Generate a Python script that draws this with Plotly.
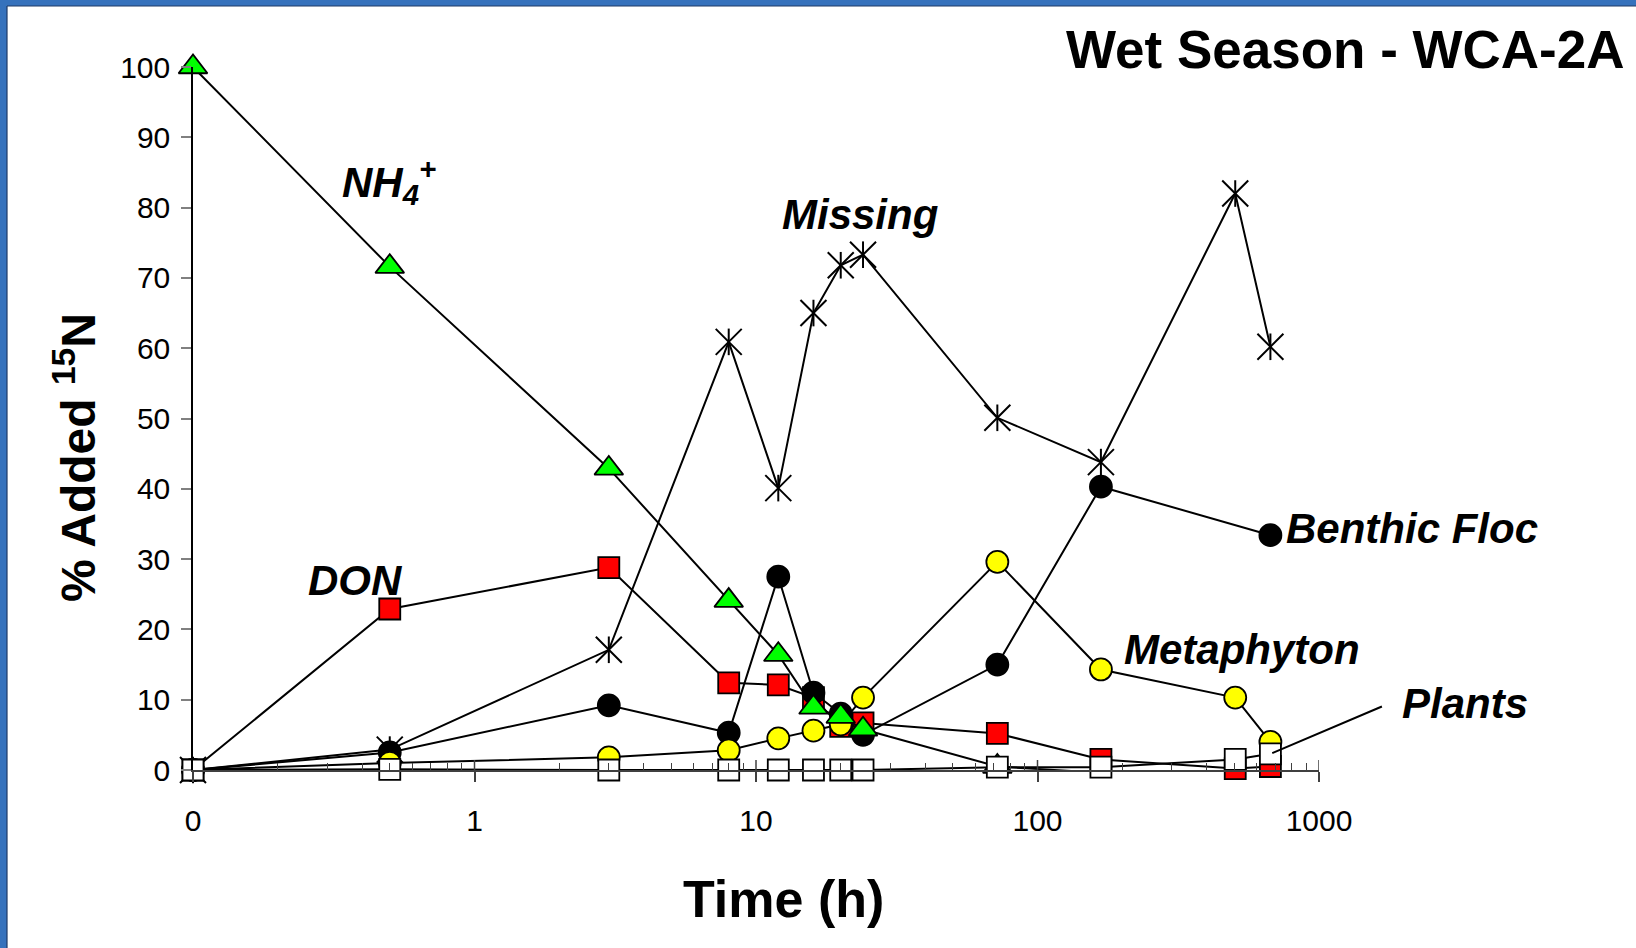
import numpy as np
import plotly.graph_objects as go

# ---------------- data ----------------
time_h = [0, 0.5, 3, 8, 12, 16, 20, 24, 72, 168, 504, 672]
nh4 = [100, 71.6, 42.9, 24.1, 16.4, 8.9, 7.6, 5.8, 0.5, -0.4, -0.4, -0.4]
don = [0, 22.9, 28.8, 12.4, 12.1, 10.3, 6.2, 6.7, 5.2, 1.5, 0.2, 0.5]
benthic_floc = [0, 2.5, 9.2, 5.3, 27.5, 11.0, 8.0, 5.0, 15.0, 40.3, None, 33.4]
metaphyton = [0, 1.0, 1.8, 2.8, 4.5, 5.6, 6.5, 10.3, 29.6, 14.3, 10.3, 4.0]
plants = [0, 0.1, 0, 0, 0, 0, 0, 0, 0.4, 0.4, 1.5, 2.3]
missing = [0, 2.9, 17.1, 60.9, 40.1, 65.0, 71.8, 73.3, 50.1, 43.8, 82.0, 60.2]

x_tick_vals = [0.1, 1, 10, 100, 1000]
x_tick_text = ["0", "1", "10", "100", "1000"]
y_tick_vals = list(range(0, 101, 10))

# time 0 is drawn at the left edge of the log axis (0.1)
x_pos = [t if t > 0 else 0.1 for t in time_h]

FONT = "Liberation Sans, Arial, sans-serif"
W, H = 1636, 948
L, R, T, B = 193, 317, 67, 178
PW, PH = W - L - R, H - T - B


def px(x):
    return (x - L) / PW


def py(y):
    return (H - B - y) / PH


fig = go.Figure()

line = dict(color="black", width=2)

# Missing (asterisk = x + vertical bar)
fig.add_trace(go.Scatter(x=x_pos, y=missing, mode="lines+markers", line=line,
                         marker=dict(symbol="x-thin-open", size=26, color="black",
                                     line=dict(color="black", width=2)),
                         cliponaxis=False, showlegend=False))
fig.add_trace(go.Scatter(x=x_pos, y=missing, mode="markers",
                         marker=dict(symbol="line-ns-open", size=19, color="black",
                                     line=dict(color="black", width=2)),
                         cliponaxis=False, showlegend=False))
# DON
fig.add_trace(go.Scatter(x=x_pos, y=don, mode="lines+markers", line=line,
                         marker=dict(symbol="square", size=21, color="#FF0000",
                                     line=dict(color="black", width=1.8)),
                         cliponaxis=False, showlegend=False))
# Benthic Floc
fig.add_trace(go.Scatter(x=x_pos, y=benthic_floc, mode="lines+markers", line=line,
                         connectgaps=True,
                         marker=dict(symbol="circle", size=22, color="black",
                                     line=dict(color="black", width=1.8)),
                         cliponaxis=False, showlegend=False))
# Metaphyton
fig.add_trace(go.Scatter(x=x_pos, y=metaphyton, mode="lines+markers", line=line,
                         marker=dict(symbol="circle", size=22, color="#FFFF00",
                                     line=dict(color="black", width=1.8)),
                         cliponaxis=False, showlegend=False))
# NH4+
fig.add_trace(go.Scatter(x=x_pos, y=nh4, mode="lines+markers", line=line,
                         marker=dict(symbol="triangle-up", size=25, color="#00FF00",
                                     line=dict(color="black", width=1.8)),
                         cliponaxis=False, showlegend=False))
# Plants
fig.add_trace(go.Scatter(x=x_pos, y=plants, mode="lines+markers", line=line,
                         marker=dict(symbol="square", size=21, color="white",
                                     line=dict(color="black", width=1.8)),
                         cliponaxis=False, showlegend=False))

minor_vals = [k * 10 ** e for e in range(-1, 3) for k in range(2, 10)]

shapes = []
# inside part of the major x ticks (ticks cross the axis)
for v in x_tick_vals[1:]:
    shapes.append(dict(type="line", xref="x", yref="y", x0=v, x1=v,
                       ysizemode="pixel", yanchor=0, y0=0, y1=10,
                       line=dict(color="#404040", width=1.5)))
# slide frame (blue strips on left and top)
shapes.append(dict(type="rect", xref="paper", yref="paper", x0=px(0), x1=px(7),
                   y0=py(H), y1=py(0), fillcolor="#3672BC", line=dict(width=0), layer="above"))
shapes.append(dict(type="rect", xref="paper", yref="paper", x0=px(0), x1=px(W),
                   y0=py(6), y1=py(0), fillcolor="#3672BC", line=dict(width=0), layer="above"))
shapes.append(dict(type="line", xref="paper", yref="paper", x0=px(7), x1=px(7),
                   y0=py(H), y1=py(6), line=dict(color="#1F3A66", width=1.2), layer="above"))
shapes.append(dict(type="line", xref="paper", yref="paper", x0=px(7), x1=px(W),
                   y0=py(6), y1=py(6), line=dict(color="#1F3A66", width=1.2), layer="above"))


def label(text, x, y, size=42, anchor="left", italic=True, angle=0):
    t = f"<b><i>{text}</i></b>" if italic else f"<b>{text}</b>"
    return dict(text=t, xref="paper", yref="paper", x=px(x), y=py(y),
                xanchor=anchor, yanchor="middle", showarrow=False, textangle=angle,
                font=dict(family=FONT, size=size, color="black"))


annotations = [
    label("Wet Season - WCA-2A", 1627, 49, size=53, anchor="right", italic=False),
    label("Time (h)", 783, 899, size=52, anchor="center", italic=False),
    label("% Added <sup>15</sup>N", 75, 458, size=48, anchor="center", italic=False, angle=-90),
    label("NH<sub>4</sub><sup>+</sup>", 340, 182),
    label("Missing", 780, 214),
    label("DON", 306, 580),
    label("Benthic Floc", 1284, 528),
    label("Metaphyton", 1122, 649),
    label("Plants", 1400, 703),
    # pointer line from the "Plants" label to its last point
    dict(text="", x=np.log10(x_pos[-1]), y=plants[-1], xref="x", yref="y",
         showarrow=True, arrowhead=0, arrowwidth=2, arrowcolor="black",
         ax=113, ay=-48, standoff=2),
]

fig.update_layout(
    width=W, height=H,
    margin=dict(l=L, r=R, t=T, b=B),
    paper_bgcolor="white", plot_bgcolor="white",
    font=dict(family=FONT, color="black"),
    shapes=shapes, annotations=annotations,
    xaxis=dict(type="log", range=[-1, 3], tickvals=x_tick_vals, ticktext=x_tick_text,
               ticks="outside", ticklen=10, tickwidth=1.5, tickcolor="#404040",
               showline=True, linecolor="#404040", linewidth=1.5,
               showgrid=False, zeroline=False,
               tickfont=dict(family=FONT, size=30, color="black"), ticklabelstandoff=13,
               minor=dict(tickvals=minor_vals, ticks="inside", ticklen=7,
                          tickwidth=1.2, tickcolor="#404040", showgrid=False)),
    yaxis=dict(range=[0, 100], tickvals=y_tick_vals,
               ticks="outside", ticklen=10, tickwidth=1.5, tickcolor="#808080",
               showline=True, linecolor="black", linewidth=1.5,
               showgrid=False, zeroline=False,
               tickfont=dict(family=FONT, size=30, color="black"), ticklabelstandoff=5),
)

fig.write_html("out.html", config={"displayModeBar": False},
               post_script="document.body.style.margin='0';document.body.style.overflow='hidden';")
